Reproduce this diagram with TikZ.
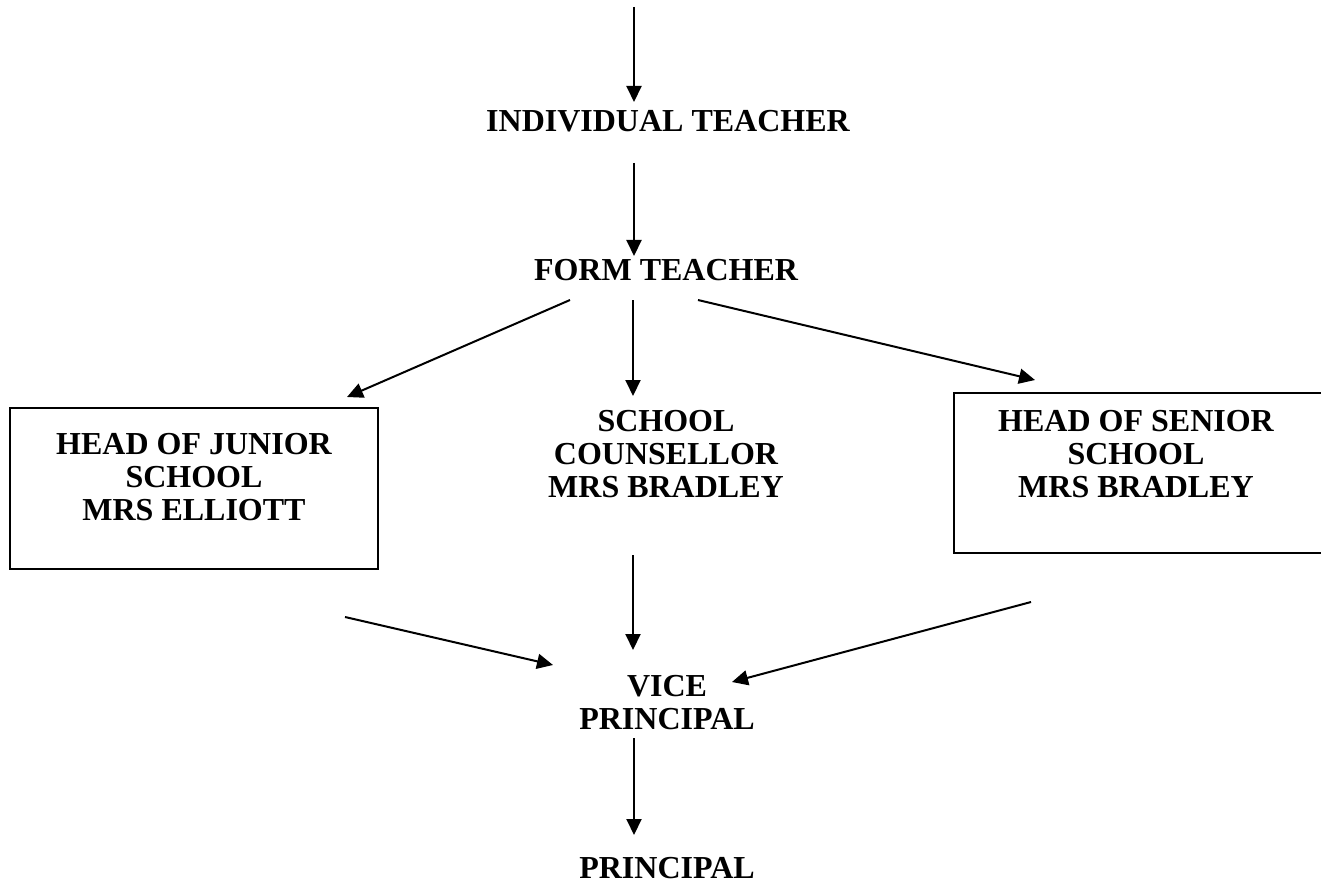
\documentclass[tikz,border=0pt]{standalone}
\usepackage{fontspec}
\setmainfont{Liberation Serif}
\usetikzlibrary{arrows.meta}
\begin{document}
\begin{tikzpicture}[x=1pt,y=-1pt,
  lbl/.style={inner sep=0pt, font=\bfseries\fontsize{32}{33}\selectfont, align=center},
  flow/.style={line width=2pt, -{Triangle[length=16pt,width=15pt]}},
  frame/.style={draw, line width=2pt, rectangle, inner sep=0pt}]
\useasboundingbox (0,0) rectangle (1321,885);
\clip (0,0) rectangle (1321,885);

% labels
\node[lbl, anchor=base]  (indiv)  at (668,132) {INDIVIDUAL TEACHER};
\node[lbl, anchor=base]  (form)   at (666,280) {FORM TEACHER};
\node[lbl, anchor=north] (couns)  at (666,410) {SCHOOL\\COUNSELLOR\\MRS BRADLEY};
\node[lbl, anchor=north] (junior) at (194,433) {HEAD OF JUNIOR\\SCHOOL\\MRS ELLIOTT};
\node[lbl, anchor=north] (senior) at (1136,410) {HEAD OF SENIOR\\SCHOOL\\MRS BRADLEY};
\node[lbl, anchor=north] (vice)   at (667,675) {VICE\\PRINCIPAL};
\node[lbl, anchor=base]  (princ)  at (667,878) {PRINCIPAL};

% boxes round the two heads of school
\node[frame, minimum width=368pt, minimum height=161pt] (jrbox) at (194,488.5) {};
\node[frame, minimum width=380pt, minimum height=160pt] (srbox) at (1144,473) {};

% connector end points
\coordinate (t0) at (634,7);     \coordinate (t1) at (634,102);
\coordinate (a0) at (634,163);   \coordinate (a1) at (634,256);
\coordinate (l0) at (570,300);   \coordinate (l1) at (347,397);
\coordinate (m0) at (633,300);   \coordinate (m1) at (633,396);
\coordinate (r0) at (698,300);   \coordinate (r1) at (1035,380);
\coordinate (jl0) at (345,617);  \coordinate (jl1) at (553,665);
\coordinate (cm0) at (633,555);  \coordinate (cm1) at (633,650);
\coordinate (sr0) at (1031,602); \coordinate (sr1) at (732,682);
\coordinate (v0) at (634,738);   \coordinate (v1) at (634,835);

\draw[flow] (t0) -- (t1);
\draw[flow] (a0) -- (a1);
\draw[flow] (l0) -- (l1);
\draw[flow] (m0) -- (m1);
\draw[flow] (r0) -- (r1);
\draw[flow] (jl0) -- (jl1);
\draw[flow] (cm0) -- (cm1);
\draw[flow] (sr0) -- (sr1);
\draw[flow] (v0) -- (v1);
\end{tikzpicture}
\end{document}
